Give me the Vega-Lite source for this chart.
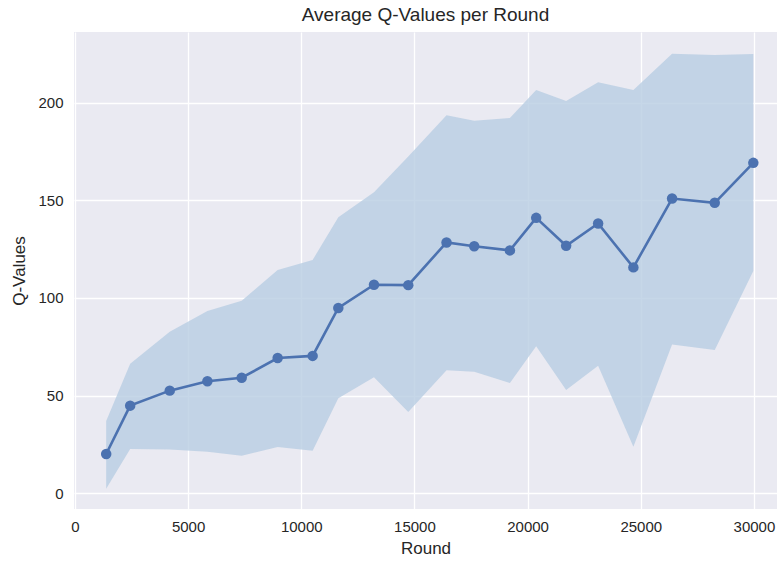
{
  "$schema": "https://vega.github.io/schema/vega-lite/v6.json",
  "width": 703,
  "height": 477,
  "autosize": "none",
  "padding": {"left": 74, "top": 32, "right": 0, "bottom": 53},
  "background": "white",
  "title": {"text": "Average Q-Values per Round", "font": "Liberation Sans", "fontSize": 19, "fontWeight": "normal", "color": "#262626", "offset": 7},
  "config": {
    "view": {"fill": "#EAEAF2", "stroke": null},
    "axis": {"domain": false, "ticks": false, "labelFlush": false, "gridColor": "white", "gridWidth": 1.3, "labelFont": "Liberation Sans", "labelFontSize": 15, "labelColor": "#262626", "titleFont": "Liberation Sans", "titleFontSize": 17, "titleFontWeight": "normal", "titleColor": "#262626"}
  },
  "data": {"values": [
    {"round": 1382, "q": 20.0, "lo": 2.2, "hi": 36.9},
    {"round": 2442, "q": 44.8, "lo": 22.6, "hi": 66.3},
    {"round": 4190, "q": 52.5, "lo": 22.3, "hi": 82.7},
    {"round": 5854, "q": 57.3, "lo": 21.2, "hi": 93.3},
    {"round": 7369, "q": 59.1, "lo": 19.1, "hi": 98.6},
    {"round": 8958, "q": 69.2, "lo": 23.6, "hi": 114.4},
    {"round": 10503, "q": 70.3, "lo": 21.7, "hi": 119.5},
    {"round": 11638, "q": 94.9, "lo": 48.6, "hi": 141.4},
    {"round": 13214, "q": 106.8, "lo": 59.3, "hi": 154.2},
    {"round": 14728, "q": 106.6, "lo": 41.5, "hi": 172.6},
    {"round": 16419, "q": 128.5, "lo": 62.9, "hi": 193.7},
    {"round": 17642, "q": 126.5, "lo": 62.2, "hi": 190.9},
    {"round": 19219, "q": 124.4, "lo": 56.4, "hi": 192.3},
    {"round": 20380, "q": 141.1, "lo": 75.2, "hi": 206.7},
    {"round": 21704, "q": 126.8, "lo": 52.8, "hi": 201.0},
    {"round": 23117, "q": 138.2, "lo": 65.3, "hi": 210.6},
    {"round": 24675, "q": 115.7, "lo": 23.7, "hi": 206.7},
    {"round": 26384, "q": 151.0, "lo": 76.2, "hi": 225.3},
    {"round": 28269, "q": 148.8, "lo": 73.3, "hi": 224.6},
    {"round": 29974, "q": 169.3, "lo": 113.8, "hi": 225.1}
  ]},
  "encoding": {
    "x": {"field": "round", "type": "quantitative", "scale": {"domain": [-40, 31020], "nice": false, "zero": false}, "axis": {"title": "Round", "values": [0, 5000, 10000, 15000, 20000, 25000, 30000], "format": "d", "labelPadding": 10, "titlePadding": 6}}
  },
  "layer": [
    {
      "mark": {"type": "area", "color": "#B8CDE2", "opacity": 0.8},
      "encoding": {
        "y": {"field": "lo", "type": "quantitative", "scale": {"domain": [-8.2, 236.4], "nice": false, "zero": false}, "axis": {"title": "Q-Values", "values": [0, 50, 100, 150, 200], "labelPadding": 11, "titlePadding": 9}},
        "y2": {"field": "hi"}
      }
    },
    {
      "mark": {"type": "line", "color": "#4C72B0", "strokeWidth": 2.6, "point": {"filled": true, "size": 110, "color": "#4C72B0", "opacity": 1}},
      "encoding": {"y": {"field": "q", "type": "quantitative"}}
    }
  ]
}
